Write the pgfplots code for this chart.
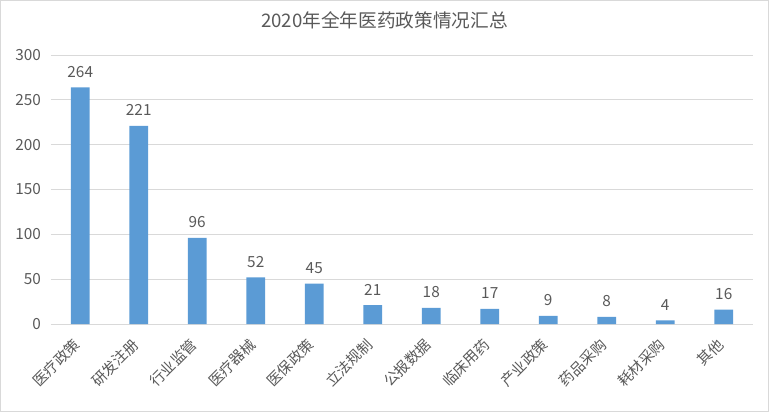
\documentclass[border=0pt]{standalone}
\usepackage{fontspec}
\setmainfont{Noto Sans CJK SC}
\usepackage{pgfplots}
\pgfplotsset{compat=1.18}
\definecolor{barblue}{HTML}{5B9BD5}
\definecolor{txt}{HTML}{595959}
\definecolor{grid}{HTML}{D9D9D9}
\begin{document}
\begin{tikzpicture}
\path[draw=grid,line width=0.75pt] (0.375pt,0.375pt) rectangle (576.375pt,308.625pt);
\path (0,0) rectangle (576.75pt,309pt);
\node[text=txt,font=\fontsize{14}{16}\selectfont] at (288.4pt,293.5pt) {2020年全年医药政策情况汇总};
\begin{axis}[
  at={(38.25pt,66pt)}, anchor=south west,
  scale only axis, width=526.5pt, height=201.75pt,
  xmin=-0.5, xmax=11.5, ymin=0, ymax=300,
  ytick={0,50,...,300},
  xtick={0,...,11},
  xticklabels={医疗政策,研发注册,行业监管,医疗器械,医保政策,立法规制,公报数据,临床用药,产业政策,药品采购,耗材采购,其他},
  xticklabel style={xshift=-6pt, yshift=-4pt, rotate=45, anchor=north east, font=\fontsize{11}{12}\selectfont, text=txt, inner sep=1pt},
  yticklabel style={font=\fontsize{11.5}{12}\selectfont, text=txt, xshift=-4pt},
  /pgf/number format/assume math mode=true,
  axis line style={draw=none},
  axis x line*=bottom,
  x axis line style={draw=grid, line width=0.75pt},
  tick style={draw=none},
  ymajorgrids, grid style={draw=grid, line width=0.75pt},
  ybar, bar width=13.9pt,
  enlarge x limits=false,
  nodes near coords,
  every node near coord/.append style={font=\fontsize{11.5}{12}\selectfont, text=txt, yshift=4pt},
]
\addplot[fill=barblue, draw=none] coordinates {(0,264) (1,221) (2,96) (3,52) (4,45) (5,21) (6,18) (7,17) (8,9) (9,8) (10,4) (11,16)};
\end{axis}
\end{tikzpicture}
\end{document}
